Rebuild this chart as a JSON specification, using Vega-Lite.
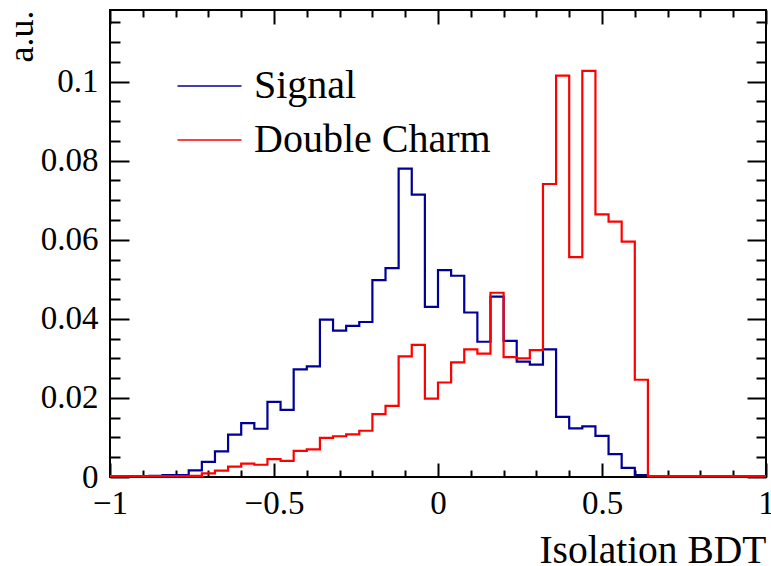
{
  "$schema": "https://vega.github.io/schema/vega-lite/v6.json",
  "width": 656,
  "height": 467,
  "autosize": "none",
  "padding": {"left": 110, "top": 10, "right": 5, "bottom": 89},
  "background": "white",
  "config": {
    "font": "Liberation Serif",
    "view": {"stroke": "black", "strokeWidth": 2},
    "axis": {"grid": false, "domain": false, "tickColor": "black", "tickWidth": 2, "labelColor": "black", "titleColor": "black", "titleFontWeight": "normal"}
  },
  "data": {
    "values": [
      {"series": "Signal", "lo": -1.00, "hi": -0.96, "value": 0.0002},
      {"series": "Signal", "lo": -0.96, "hi": -0.92, "value": 0.0002},
      {"series": "Signal", "lo": -0.92, "hi": -0.88, "value": 0.0002},
      {"series": "Signal", "lo": -0.88, "hi": -0.84, "value": 0.0003},
      {"series": "Signal", "lo": -0.84, "hi": -0.80, "value": 0.0005},
      {"series": "Signal", "lo": -0.80, "hi": -0.76, "value": 0.0005},
      {"series": "Signal", "lo": -0.76, "hi": -0.72, "value": 0.0017},
      {"series": "Signal", "lo": -0.72, "hi": -0.68, "value": 0.0038},
      {"series": "Signal", "lo": -0.68, "hi": -0.64, "value": 0.0065},
      {"series": "Signal", "lo": -0.64, "hi": -0.60, "value": 0.0107},
      {"series": "Signal", "lo": -0.60, "hi": -0.56, "value": 0.0136},
      {"series": "Signal", "lo": -0.56, "hi": -0.52, "value": 0.0122},
      {"series": "Signal", "lo": -0.52, "hi": -0.48, "value": 0.0190},
      {"series": "Signal", "lo": -0.48, "hi": -0.44, "value": 0.0170},
      {"series": "Signal", "lo": -0.44, "hi": -0.40, "value": 0.0272},
      {"series": "Signal", "lo": -0.40, "hi": -0.36, "value": 0.0280},
      {"series": "Signal", "lo": -0.36, "hi": -0.32, "value": 0.0398},
      {"series": "Signal", "lo": -0.32, "hi": -0.28, "value": 0.0370},
      {"series": "Signal", "lo": -0.28, "hi": -0.24, "value": 0.0382},
      {"series": "Signal", "lo": -0.24, "hi": -0.20, "value": 0.0392},
      {"series": "Signal", "lo": -0.20, "hi": -0.16, "value": 0.0498},
      {"series": "Signal", "lo": -0.16, "hi": -0.12, "value": 0.0528},
      {"series": "Signal", "lo": -0.12, "hi": -0.08, "value": 0.0780},
      {"series": "Signal", "lo": -0.08, "hi": -0.04, "value": 0.0714},
      {"series": "Signal", "lo": -0.04, "hi": 0.00, "value": 0.0430},
      {"series": "Signal", "lo": 0.00, "hi": 0.04, "value": 0.0523},
      {"series": "Signal", "lo": 0.04, "hi": 0.08, "value": 0.0509},
      {"series": "Signal", "lo": 0.08, "hi": 0.12, "value": 0.0416},
      {"series": "Signal", "lo": 0.12, "hi": 0.16, "value": 0.0342},
      {"series": "Signal", "lo": 0.16, "hi": 0.20, "value": 0.0456},
      {"series": "Signal", "lo": 0.20, "hi": 0.24, "value": 0.0344},
      {"series": "Signal", "lo": 0.24, "hi": 0.28, "value": 0.0292},
      {"series": "Signal", "lo": 0.28, "hi": 0.32, "value": 0.0284},
      {"series": "Signal", "lo": 0.32, "hi": 0.36, "value": 0.0323},
      {"series": "Signal", "lo": 0.36, "hi": 0.40, "value": 0.0152},
      {"series": "Signal", "lo": 0.40, "hi": 0.44, "value": 0.0123},
      {"series": "Signal", "lo": 0.44, "hi": 0.48, "value": 0.0128},
      {"series": "Signal", "lo": 0.48, "hi": 0.52, "value": 0.0104},
      {"series": "Signal", "lo": 0.52, "hi": 0.56, "value": 0.0058},
      {"series": "Signal", "lo": 0.56, "hi": 0.60, "value": 0.0023},
      {"series": "Signal", "lo": 0.60, "hi": 0.64, "value": 0.0005},
      {"series": "Signal", "lo": 0.64, "hi": 0.68, "value": 0.0001},
      {"series": "Signal", "lo": 0.68, "hi": 0.72, "value": 0.0001},
      {"series": "Signal", "lo": 0.72, "hi": 0.76, "value": 0.0001},
      {"series": "Signal", "lo": 0.76, "hi": 0.80, "value": 0.0001},
      {"series": "Signal", "lo": 0.80, "hi": 0.84, "value": 0.0001},
      {"series": "Signal", "lo": 0.84, "hi": 0.88, "value": 0.0001},
      {"series": "Signal", "lo": 0.88, "hi": 0.92, "value": 0.0001},
      {"series": "Signal", "lo": 0.92, "hi": 0.96, "value": 0.0001},
      {"series": "Signal", "lo": 0.96, "hi": 1.00, "value": 0.0001},
      {"series": "Double Charm", "lo": -1.00, "hi": -0.96, "value": 0.0002},
      {"series": "Double Charm", "lo": -0.96, "hi": -0.92, "value": 0.0002},
      {"series": "Double Charm", "lo": -0.92, "hi": -0.88, "value": 0.0002},
      {"series": "Double Charm", "lo": -0.88, "hi": -0.84, "value": 0.0002},
      {"series": "Double Charm", "lo": -0.84, "hi": -0.80, "value": 0.0002},
      {"series": "Double Charm", "lo": -0.80, "hi": -0.76, "value": 0.0002},
      {"series": "Double Charm", "lo": -0.76, "hi": -0.72, "value": 0.0003},
      {"series": "Double Charm", "lo": -0.72, "hi": -0.68, "value": 0.0009},
      {"series": "Double Charm", "lo": -0.68, "hi": -0.64, "value": 0.0016},
      {"series": "Double Charm", "lo": -0.64, "hi": -0.60, "value": 0.0026},
      {"series": "Double Charm", "lo": -0.60, "hi": -0.56, "value": 0.0034},
      {"series": "Double Charm", "lo": -0.56, "hi": -0.52, "value": 0.0031},
      {"series": "Double Charm", "lo": -0.52, "hi": -0.48, "value": 0.0045},
      {"series": "Double Charm", "lo": -0.48, "hi": -0.44, "value": 0.0041},
      {"series": "Double Charm", "lo": -0.44, "hi": -0.40, "value": 0.0066},
      {"series": "Double Charm", "lo": -0.40, "hi": -0.36, "value": 0.0070},
      {"series": "Double Charm", "lo": -0.36, "hi": -0.32, "value": 0.0099},
      {"series": "Double Charm", "lo": -0.32, "hi": -0.28, "value": 0.0103},
      {"series": "Double Charm", "lo": -0.28, "hi": -0.24, "value": 0.0108},
      {"series": "Double Charm", "lo": -0.24, "hi": -0.20, "value": 0.0117},
      {"series": "Double Charm", "lo": -0.20, "hi": -0.16, "value": 0.0159},
      {"series": "Double Charm", "lo": -0.16, "hi": -0.12, "value": 0.0180},
      {"series": "Double Charm", "lo": -0.12, "hi": -0.08, "value": 0.0305},
      {"series": "Double Charm", "lo": -0.08, "hi": -0.04, "value": 0.0334},
      {"series": "Double Charm", "lo": -0.04, "hi": 0.00, "value": 0.0198},
      {"series": "Double Charm", "lo": 0.00, "hi": 0.04, "value": 0.0239},
      {"series": "Double Charm", "lo": 0.04, "hi": 0.08, "value": 0.0290},
      {"series": "Double Charm", "lo": 0.08, "hi": 0.12, "value": 0.0323},
      {"series": "Double Charm", "lo": 0.12, "hi": 0.16, "value": 0.0312},
      {"series": "Double Charm", "lo": 0.16, "hi": 0.20, "value": 0.0466},
      {"series": "Double Charm", "lo": 0.20, "hi": 0.24, "value": 0.0303},
      {"series": "Double Charm", "lo": 0.24, "hi": 0.28, "value": 0.0300},
      {"series": "Double Charm", "lo": 0.28, "hi": 0.32, "value": 0.0321},
      {"series": "Double Charm", "lo": 0.32, "hi": 0.36, "value": 0.0741},
      {"series": "Double Charm", "lo": 0.36, "hi": 0.40, "value": 0.1015},
      {"series": "Double Charm", "lo": 0.40, "hi": 0.44, "value": 0.0556},
      {"series": "Double Charm", "lo": 0.44, "hi": 0.48, "value": 0.1027},
      {"series": "Double Charm", "lo": 0.48, "hi": 0.52, "value": 0.0664},
      {"series": "Double Charm", "lo": 0.52, "hi": 0.56, "value": 0.0646},
      {"series": "Double Charm", "lo": 0.56, "hi": 0.60, "value": 0.0595},
      {"series": "Double Charm", "lo": 0.60, "hi": 0.64, "value": 0.0246},
      {"series": "Double Charm", "lo": 0.64, "hi": 0.68, "value": 0.0002},
      {"series": "Double Charm", "lo": 0.68, "hi": 0.72, "value": 0.0002},
      {"series": "Double Charm", "lo": 0.72, "hi": 0.76, "value": 0.0002},
      {"series": "Double Charm", "lo": 0.76, "hi": 0.80, "value": 0.0002},
      {"series": "Double Charm", "lo": 0.80, "hi": 0.84, "value": 0.0002},
      {"series": "Double Charm", "lo": 0.84, "hi": 0.88, "value": 0.0002},
      {"series": "Double Charm", "lo": 0.88, "hi": 0.92, "value": 0.0002},
      {"series": "Double Charm", "lo": 0.92, "hi": 0.96, "value": 0.0002},
      {"series": "Double Charm", "lo": 0.96, "hi": 1.00, "value": 0.0002}
    ]
  },
  "transform": [
    {"fold": ["lo", "hi"], "as": ["side", "pos"]}
  ],
  "resolve": {"axis": {"x": "independent", "y": "independent"}},
  "layer": [
    {
      "transform": [{"filter": "datum.series === 'Signal'"}],
      "mark": {"type": "line", "strokeWidth": 2.2, "interpolate": "linear"},
      "encoding": {
        "x": {"field": "pos", "type": "quantitative",
          "scale": {"domain": [-1, 1], "nice": false, "zero": false},
          "axis": {"orient": "bottom", "values": [-1, -0.5, 0, 0.5, 1], "format": "~g", "ticks": false,
            "labelFontSize": 33, "labelPadding": 10, "labelFlush": false,
            "title": "Isolation BDT", "titleFontSize": 39.5, "titleX": 656, "titleY": 85,
            "titleAlign": "right", "titleBaseline": "alphabetic", "titleAnchor": "end"}},
        "y": {"field": "value", "type": "quantitative",
          "scale": {"domain": [0, 0.1181], "nice": false, "zero": true},
          "axis": {"orient": "left", "values": [0, 0.02, 0.04, 0.06, 0.08, 0.1], "format": "~g", "ticks": false,
            "labelFontSize": 33, "labelPadding": 12,
            "title": "a.u.", "titleFontSize": 36, "titleAngle": -90, "titleX": -78, "titleY": 0,
            "titleAlign": "right", "titleBaseline": "alphabetic", "titleAnchor": "end"}},
        "color": {"field": "series", "type": "nominal",
          "scale": {"domain": ["Signal", "Double Charm"], "range": ["#000099", "#ff0000"]},
          "legend": {"orient": "none", "legendX": 79.5, "legendY": 56, "title": null, "padding": 0,
            "symbolType": "M-4,0H4", "symbolSize": 256, "symbolStrokeWidth": 1.3,
            "labelFontSize": 40, "labelOffset": 24.5, "labelColor": "black", "labelBaseline": "middle",
            "rowPadding": 14, "labelLimit": 400}},
        "order": [{"field": "pos", "type": "quantitative"}, {"field": "side", "type": "ordinal"}]
      }
    },
    {
      "transform": [{"filter": "datum.series === 'Double Charm'"}],
      "mark": {"type": "line", "strokeWidth": 2.2, "interpolate": "linear"},
      "encoding": {
        "x": {"field": "pos", "type": "quantitative",
          "axis": {"orient": "top", "offset": -467, "values": [-1, -0.5, 0, 0.5, 1], "labels": false, "tickSize": 14, "title": null}},
        "y": {"field": "value", "type": "quantitative",
          "axis": {"orient": "right", "offset": -656, "values": [0, 0.02, 0.04, 0.06, 0.08, 0.1], "labels": false, "tickSize": 19, "title": null}},
        "color": {"field": "series", "type": "nominal"},
        "order": [{"field": "pos", "type": "quantitative"}, {"field": "side", "type": "ordinal"}]
      }
    },
    {
      "mark": {"type": "point", "opacity": 0},
      "encoding": {
        "x": {"field": "pos", "type": "quantitative",
          "axis": {"orient": "top", "offset": -467, "values": [-0.9, -0.8, -0.7, -0.6, -0.4, -0.3, -0.2, -0.1, 0.1, 0.2, 0.3, 0.4, 0.6, 0.7, 0.8, 0.9], "labels": false, "tickSize": 7, "title": null}},
        "y": {"field": "value", "type": "quantitative",
          "axis": {"orient": "right", "offset": -656, "values": [0.005, 0.01, 0.015, 0.025, 0.03, 0.035, 0.045, 0.05, 0.055, 0.065, 0.07, 0.075, 0.085, 0.09, 0.095, 0.105, 0.11, 0.115], "labels": false, "tickSize": 10, "title": null}}
      }
    },
    {
      "mark": {"type": "point", "opacity": 0},
      "encoding": {
        "x": {"field": "pos", "type": "quantitative",
          "axis": {"orient": "bottom", "offset": -467, "values": [-1, -0.5, 0, 0.5, 1], "labels": false, "tickSize": 14, "title": null}},
        "y": {"field": "value", "type": "quantitative",
          "axis": {"orient": "left", "offset": -656, "values": [0, 0.02, 0.04, 0.06, 0.08, 0.1], "labels": false, "tickSize": 19, "title": null}}
      }
    },
    {
      "mark": {"type": "point", "opacity": 0},
      "encoding": {
        "x": {"field": "pos", "type": "quantitative",
          "axis": {"orient": "bottom", "offset": -467, "values": [-0.9, -0.8, -0.7, -0.6, -0.4, -0.3, -0.2, -0.1, 0.1, 0.2, 0.3, 0.4, 0.6, 0.7, 0.8, 0.9], "labels": false, "tickSize": 7, "title": null}},
        "y": {"field": "value", "type": "quantitative",
          "axis": {"orient": "left", "offset": -656, "values": [0.005, 0.01, 0.015, 0.025, 0.03, 0.035, 0.045, 0.05, 0.055, 0.065, 0.07, 0.075, 0.085, 0.09, 0.095, 0.105, 0.11, 0.115], "labels": false, "tickSize": 10, "title": null}}
      }
    }
  ]
}
